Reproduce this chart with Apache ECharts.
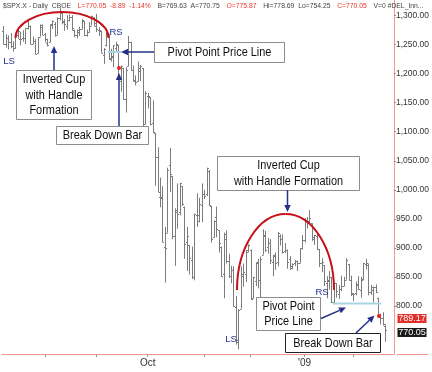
<!DOCTYPE html>
<html><head><meta charset="utf-8">
<script src="https://cdn.jsdelivr.net/npm/echarts@6/dist/echarts.min.js"></script>
<style>html,body{margin:0;padding:0;background:#fff;}#c{width:432px;height:372px;}</style>
</head><body><div id="c"></div>
<script>
const dates = [
'2008-07-09','2008-07-10','2008-07-11','2008-07-14','2008-07-15','2008-07-16','2008-07-17','2008-07-18','2008-07-21','2008-07-22','2008-07-23','2008-07-24','2008-07-25','2008-07-28','2008-07-29','2008-07-30','2008-07-31',
'2008-08-01','2008-08-04','2008-08-05','2008-08-06','2008-08-07','2008-08-08','2008-08-11','2008-08-12','2008-08-13','2008-08-14','2008-08-15','2008-08-18','2008-08-19','2008-08-20','2008-08-21','2008-08-22','2008-08-25','2008-08-26','2008-08-27','2008-08-28','2008-08-29',
'2008-09-02','2008-09-03','2008-09-04','2008-09-05','2008-09-08','2008-09-09','2008-09-10','2008-09-11','2008-09-12','2008-09-15','2008-09-16','2008-09-17','2008-09-18','2008-09-19','2008-09-22','2008-09-23','2008-09-24','2008-09-25','2008-09-26','2008-09-29','2008-09-30',
'2008-10-01','2008-10-02','2008-10-03','2008-10-06','2008-10-07','2008-10-08','2008-10-09','2008-10-10','2008-10-13','2008-10-14','2008-10-15','2008-10-16','2008-10-17','2008-10-20','2008-10-21','2008-10-22','2008-10-23','2008-10-24','2008-10-27','2008-10-28','2008-10-29','2008-10-30','2008-10-31',
'2008-11-03','2008-11-04','2008-11-05','2008-11-06','2008-11-07','2008-11-10','2008-11-11','2008-11-12','2008-11-13','2008-11-14','2008-11-17','2008-11-18','2008-11-19','2008-11-20','2008-11-21','2008-11-24','2008-11-25','2008-11-26','2008-11-28',
'2008-12-01','2008-12-02','2008-12-03','2008-12-04','2008-12-05','2008-12-08','2008-12-09','2008-12-10','2008-12-11','2008-12-12','2008-12-15','2008-12-16','2008-12-17','2008-12-18','2008-12-19','2008-12-22','2008-12-23','2008-12-24','2008-12-26','2008-12-29','2008-12-30','2008-12-31',
'2009-01-02','2009-01-05','2009-01-06','2009-01-07','2009-01-08','2009-01-09','2009-01-12','2009-01-13','2009-01-14','2009-01-15','2009-01-16','2009-01-20','2009-01-21','2009-01-22','2009-01-23','2009-01-26','2009-01-27','2009-01-28','2009-01-29','2009-01-30',
'2009-02-02','2009-02-03','2009-02-04','2009-02-05','2009-02-06','2009-02-09','2009-02-10','2009-02-11','2009-02-12','2009-02-13','2009-02-17','2009-02-18','2009-02-19','2009-02-20'];

const opens = [
1273,1252,1262,1255,1248,1245,1266,1259,1261,1261,1278,1283,1252,1257,1236,1264,1281,
1269,1253,1254,1284,1286,1267,1296,1305,1289,1283,1293,1298,1276,1267,1272,1277,1291,1267,1271,1283,1297,
1287,1276,1274,1233,1250,1267,1227,1229,1245,1250,1188,1210,1157,1213,1255,1207,1189,1187,1204,1209,1113,
1162,1160,1115,1098,1057,988,988,902,926,1042,1024,921,962,962,1006,971,910,904,879,849,957,957,974,
992,992,1032,972,918,953,930,902,854,916,878,852,861,798,741,795,854,854,893,
897,813,842,873,844,888,921,902,908,876,887,875,921,916,894,896,880,868,874,878,874,899,
914,946,947,942,916,921,898,873,870,840,844,849,806,839,820,829,835,845,872,844,
820,822,836,828,847,872,870,824,827,832,814,782,779,765];

const highs = [
1282,1268,1266,1270,1256,1268,1278,1272,1275,1279,1291,1283,1264,1260,1263,1285,1285,
1270,1260,1285,1292,1289,1297,1313,1306,1294,1301,1302,1301,1276,1276,1281,1294,1291,1276,1289,1300,1297,
1303,1280,1274,1244,1274,1268,1243,1249,1255,1250,1214,1210,1211,1265,1255,1214,1197,1221,1215,1210,1170,
1167,1160,1154,1098,1073,1021,1006,936,1038,1072,1024,968,1011,1012,1006,971,936,905,902,959,994,986,1011,
1000,1038,1034,972,947,971,930,902,926,930,890,869,868,817,794,868,873,896,906,
897,850,875,881,885,932,929,917,915,888,892,927,923,923,908,897,886,873,879,878,899,922,
951,953,965,942,922,924,898,882,870,851,860,850,840,839,836,852,850,882,872,852,
822,842,851,850,874,881,873,836,833,837,814,787,789,768];

const lows = [
1250,1245,1242,1244,1238,1243,1260,1249,1255,1251,1276,1251,1251,1234,1235,1264,1267,
1254,1247,1254,1277,1264,1267,1292,1285,1274,1276,1290,1274,1263,1261,1265,1277,1265,1264,1271,1283,1282,
1272,1265,1236,1217,1247,1224,1221,1211,1236,1192,1169,1155,1133,1213,1205,1187,1180,1187,1187,1106,1113,
1140,1111,1098,1007,996,970,910,840,926,996,915,869,933,956,972,881,860,854,846,844,936,944,944,
984,989,972,909,918,918,892,850,813,873,848,839,799,733,725,795,833,841,893,
810,813,834,830,814,888,893,890,872,851,862,868,904,890,891,864,862,863,869,860,874,897,
909,933,942,912,905,896,867,858,834,813,828,805,805,814,812,825,834,845,843,817,
808,818,827,814,844,863,818,819,806,822,780,768,766,738];

const closes = [
1252,1262,1255,1248,1245,1266,1274,1260,1261,1278,1283,1252,1257,1234,1263,1284,1267,
1260,1249,1285,1290,1267,1296,1305,1290,1285,1292,1298,1278,1267,1275,1277,1292,1267,1271,1282,1300,1283,
1277,1275,1236,1242,1268,1225,1231,1249,1252,1193,1214,1156,1207,1255,1207,1188,1186,1209,1213,1106,1166,
1161,1114,1099,1057,996,985,910,899,1034,1028,920,965,959,1012,976,906,920,882,849,958,946,975,993,
989,1037,974,916,947,933,909,852,923,878,851,861,800,737,793,852,858,896,905,
811,849,875,844,881,922,897,909,879,886,873,926,915,892,896,876,866,872,878,873,899,914,
948,942,952,918,922,898,874,876,842,843,850,806,839,825,829,835,845,879,844,822,
821,837,829,845,873,874,824,832,833,824,780,779,768,758];

const yTicks = [800, 850, 900, 950, 1000, 1050, 1100, 1150, 1200, 1250, 1300];
const xLabels = {'2008-10-01': 'Oct', '2009-01-02': "'09"};
const monthStarts = ['2008-08-01','2008-09-02','2008-10-01','2008-11-03','2008-12-01','2009-01-02','2009-02-02'];

const NAVY = '#24308a', RED = '#c8101a', GRAY = '#7c7c7c', PINK = '#f29a92';
const FONT = '"Liberation Sans", Arial, sans-serif';

const chart = echarts.init(document.getElementById('c'), null, {renderer: 'canvas'});
const ohlc = dates.map((d, i) => [i, opens[i], closes[i], lows[i], highs[i]]);

function fmt(v) {
  return v.toLocaleString('en-US', {minimumFractionDigits: 2, maximumFractionDigits: 2});
}
function arrow(x1, y1, x2, y2) {
  const a = Math.atan2(y2 - y1, x2 - x1), L = 7, W = 3.2;
  const bx = x2 - L * Math.cos(a), by = y2 - L * Math.sin(a);
  const px = -Math.sin(a) * W, py = Math.cos(a) * W;
  return [
    {type: 'line', shape: {x1, y1, x2: bx, y2: by}, style: {stroke: NAVY, lineWidth: 1.5}, z: 20},
    {type: 'polygon', shape: {points: [[x2, y2], [bx + px, by + py], [bx - px, by - py]]}, style: {fill: NAVY}, z: 20}
  ];
}
function box(x, y, w, h, lines, lh, border) {
  const els = [{type: 'rect', shape: {x: x + 0.5, y: y + 0.5, width: w, height: h},
    style: {fill: '#fff', stroke: border || '#8c8c8c', lineWidth: 1}, z: 20}];
  const cy = y + h / 2 - (lines.length - 1) * lh / 2 + 0.5;
  lines.forEach((t, k) => els.push({type: 'text', x: x + w / 2 + 0.5, y: cy + k * lh, scaleX: 0.84,
    style: {text: t, fill: '#111', font: '13px ' + FONT, textAlign: 'center', textVerticalAlign: 'middle'}, z: 21}));
  return els;
}
function lbl(t, x, y) {
  return {type: 'text', x, y, style: {text: t, fill: NAVY, font: '9.5px ' + FONT, textAlign: 'center', textVerticalAlign: 'middle'}, z: 21};
}
function halfEllipse(cx, cy, rx, ry) {
  const k = 0.5523;
  const st = {stroke: RED, lineWidth: 2, fill: null};
  return [
    {type: 'bezierCurve', shape: {x1: cx - rx, y1: cy, cpx1: cx - rx, cpy1: cy - k * ry, cpx2: cx - k * rx, cpy2: cy - ry, x2: cx, y2: cy - ry}, style: st, z: 15},
    {type: 'bezierCurve', shape: {x1: cx, y1: cy - ry, cpx1: cx + k * rx, cpy1: cy - ry, cpx2: cx + rx, cpy2: cy - k * ry, x2: cx + rx, y2: cy}, style: st, z: 15}
  ];
}

const graphics = [].concat(
  [{type: 'text', x: 3, y: 6, style: {
    text: '{g|$SPX.X - Daily  CBOE}  {r|L=770.05  -8.89  -1.14%}  {g|B=769.63  A=770.75}  {r|O=775.87}  {g|Hi=778.69  Lo=754.25}  {r|C=770.05}  {g|V=0 #DEL_Inn...}',
    textVerticalAlign: 'middle',
    rich: {g: {fill: '#444', font: '6.8px ' + FONT}, r: {fill: '#e8352b', font: '6.8px ' + FONT}}
  }, z: 21}],
  halfEllipse(62, 38, 46.5, 26),
  halfEllipse(285.5, 290, 48.5, 76),
  [{type: 'line', shape: {x1: 108, y1: 52, x2: 121, y2: 52}, style: {stroke: '#a9d4e4', lineWidth: 2}, z: 14},
   {type: 'line', shape: {x1: 333, y1: 303.5, x2: 381, y2: 303.5}, style: {stroke: '#a9d4e4', lineWidth: 2}, z: 14}],
  [{type: 'circle', shape: {cx: 119, cy: 68, r: 2}, style: {fill: '#e82020'}, z: 16},
   {type: 'circle', shape: {cx: 379, cy: 316, r: 2}, style: {fill: '#e82020'}, z: 16}],
  [lbl('LS', 9, 61), lbl('RS', 116, 32), lbl('RS', 322, 292), lbl('LS', 231, 339)],
  box(16, 70, 75, 49, ['Inverted Cup', 'with Handle', 'Formation'], 15.3),
  arrow(54, 70, 54, 46),
  box(154, 42, 130, 20, ['Pivot Point Price Line'], 15),
  arrow(154, 52, 121, 52),
  box(56, 126, 92, 18, ['Break Down Bar'], 15),
  arrow(119, 126, 119, 73),
  box(217, 156, 142, 34, ['Inverted Cup', 'with Handle Formation'], 16),
  arrow(287.5, 190, 287.5, 212),
  box(256, 297, 64, 33, ['Pivot Point', 'Price Line'], 15.5),
  arrow(321, 318.5, 346, 307.5),
  box(285, 333, 95, 19, ['Break Down Bar'], 15, '#222'),
  arrow(356, 333, 374.5, 315.5),
  [{type: 'rect', shape: {x: 397.5, y: 314, width: 29, height: 9}, style: {fill: '#e0302a'}, z: 20},
   {type: 'text', x: 412, y: 318.7, style: {text: '789.17', fill: '#fff', font: '9px ' + FONT, textAlign: 'center', textVerticalAlign: 'middle'}, z: 21},
   {type: 'rect', shape: {x: 397.5, y: 328, width: 29, height: 9}, style: {fill: '#1a1a1a'}, z: 20},
   {type: 'text', x: 412, y: 332.7, style: {text: '770.05', fill: '#fff', font: '9px ' + FONT, textAlign: 'center', textVerticalAlign: 'middle'}, z: 21},
   {type: 'line', shape: {x1: 397, y1: 354.5, x2: 428, y2: 354.5}, style: {stroke: PINK, lineWidth: 1}, z: 5}]
);

chart.setOption({
  animation: false,
  backgroundColor: '#fff',
  grid: {left: 2, right: 35, top: 0, bottom: 18, containLabel: false},
  xAxis: {
    type: 'category', data: dates, boundaryGap: true, max: 159,
    axisLine: {show: true, lineStyle: {color: PINK, width: 1}},
    axisTick: {show: true, length: 3, alignWithLabel: true, interval: (i, v) => monthStarts.indexOf(v) >= 0, lineStyle: {color: '#999'}},
    axisLabel: {interval: (i, v) => v in xLabels, formatter: v => xLabels[v] || '', fontSize: 10, color: '#333', margin: 4, fontFamily: FONT},
    splitLine: {show: false}
  },
  yAxis: {
    type: 'value', position: 'right', min: 717, max: 1327,
    axisLine: {show: true, lineStyle: {color: PINK, width: 1}},
    axisTick: {show: true, length: 2, customValues: yTicks, lineStyle: {color: '#888'}},
    axisLabel: {customValues: yTicks, formatter: v => fmt(v), fontSize: 8.5, color: '#333', margin: 2, fontFamily: FONT},
    splitLine: {show: false}
  },
  series: [{
    type: 'custom',
    data: ohlc,
    encode: {x: 0, y: [1, 2, 3, 4]},
    renderItem: function (params, api) {
      const i = api.value(0);
      const o = api.coord([i, api.value(1)]);
      const c = api.coord([i, api.value(2)]);
      const l = api.coord([i, api.value(3)]);
      const h = api.coord([i, api.value(4)]);
      const x = Math.round(o[0]) + 0.5;
      const st = {stroke: GRAY, lineWidth: 1};
      return {type: 'group', children: [
        {type: 'line', shape: {x1: x, y1: h[1], x2: x, y2: l[1]}, style: st},
        {type: 'line', shape: {x1: x - 1.5, y1: Math.round(o[1]) + 0.5, x2: x, y2: Math.round(o[1]) + 0.5}, style: st},
        {type: 'line', shape: {x1: x, y1: Math.round(c[1]) + 0.5, x2: x + 1.5, y2: Math.round(c[1]) + 0.5}, style: st}
      ]};
    }
  }],
  graphic: graphics
});
</script></body></html>
